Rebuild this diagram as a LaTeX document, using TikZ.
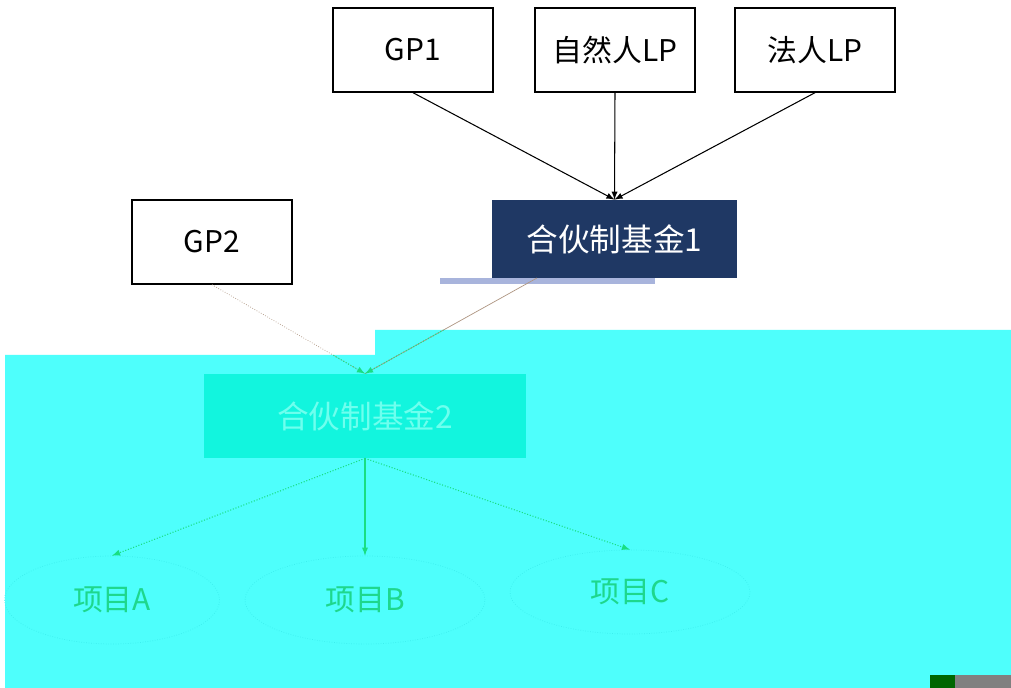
\documentclass[tikz,border=0pt]{standalone}
\usepackage{fontspec}
\setmainfont{Noto Sans CJK SC}
\usepackage{xcolor}
\usepackage{tikz}
\usetikzlibrary{shapes.geometric}

\definecolor{fundnavy}{RGB}{31,56,100}
\definecolor{bgcyan}{RGB}{78,255,252}
\definecolor{fundteal}{RGB}{18,245,222}
\definecolor{fundtext}{RGB}{110,255,238}
\definecolor{linkgreen}{RGB}{25,222,130}
\definecolor{itemtext}{RGB}{30,215,140}
\definecolor{ovalline}{RGB}{60,238,238}
\definecolor{faintline}{RGB}{175,150,130}
\definecolor{barblue}{RGB}{168,180,220}

\tikzset{
    partner/.style={draw, thick, fill=white, minimum width=3.2cm, minimum height=1.68cm, font=\fontsize{17}{20}\selectfont},
    fundone/.style={fill=fundnavy, text=white, minimum width=4.9cm, minimum height=1.56cm, font=\fontsize{18}{21}\selectfont},
    fundtwo/.style={fill=fundteal, text=fundtext, minimum width=6.44cm, minimum height=1.68cm, font=\fontsize{18}{21}\selectfont},
    item/.style={ellipse, draw=ovalline, densely dotted, text=itemtext, font=\fontsize{17}{20}\selectfont}
}

\begin{document}
\begin{tikzpicture}[x=0.02cm, y=-0.02cm]
    \useasboundingbox (0,0) rectangle (1011,688);
    \fill[white] (0,0) rectangle (1011,688);
    \fill[bgcyan] (5,355) -- (375,355) -- (375,330) -- (1011,330) -- (1011,688) -- (5,688) -- cycle;
    \fill[barblue] (440,278) rectangle (655,284);
    \fill[green!40!black] (930,675) rectangle (955,688);
    \fill[gray] (955,675) rectangle (1011,688);

    % investors
    \node[partner] (gp1) at (413,50) {GP1};
    \node[partner] (natlp) at (615,50) {自然人LP};
    \node[partner] (corplp) at (815,50) {法人LP};
    \node[partner] (gp2) at (212,242) {GP2};

    % funds
    \node[fundone] (fund1) at (614.5,239) {合伙制基金1};
    \node[fundtwo] (fund2) at (365,416) {合伙制基金2};
    \coordinate (f1out) at (537,278);

    % projects
    \node[item, minimum width=4.3cm, minimum height=1.76cm] (itema) at (112,600) {项目A};
    \node[item, minimum width=4.8cm, minimum height=1.76cm] (itemb) at (365,600) {项目B};
    \node[item, minimum width=4.8cm, minimum height=1.68cm] (itemc) at (630,592) {项目C};

    \draw[semithick, -latex] (gp1.south) -- (fund1.north);
    \draw[semithick, -latex] (natlp.south) -- (fund1.north);
    \draw[semithick, -latex] (corplp.south) -- (fund1.north);

    \draw[faintline, densely dotted] (gp2.south) -- (fund2.north);
    \draw[faintline] (f1out) -- (fund2.north);
    \begin{scope}
        \clip (5,355) -- (375,355) -- (375,330) -- (1011,330) -- (1011,688) -- (5,688) -- cycle;
        \draw[linkgreen, semithick, densely dotted, -latex] (gp2.south) -- (fund2.north);
        \draw[linkgreen, semithick, densely dotted, -latex] (f1out) -- (fund2.north);
    \end{scope}

    \draw[linkgreen, semithick, densely dotted, -latex] (fund2.south) -- (itema.north);
    \draw[linkgreen, semithick, -latex] (fund2.south) -- (itemb.north);
    \draw[linkgreen, semithick, densely dotted, -latex] (fund2.south) -- (itemc.north);
\end{tikzpicture}
\end{document}
